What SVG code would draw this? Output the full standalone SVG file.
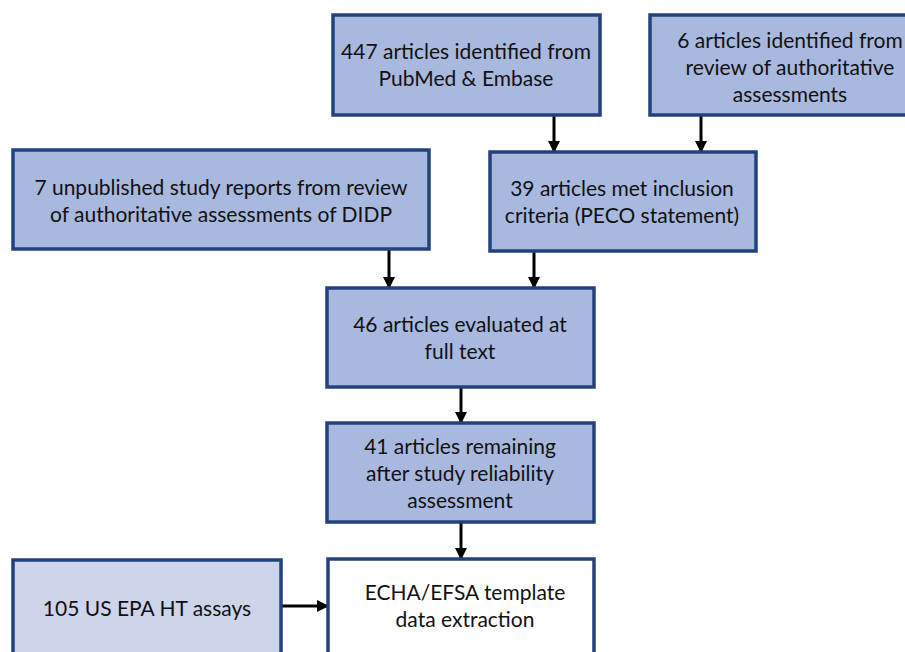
<svg xmlns="http://www.w3.org/2000/svg" width="905" height="652" viewBox="0 0 905 652">
<defs>
<marker id="ah" markerWidth="12" markerHeight="12" refX="10" refY="6" orient="auto" markerUnits="userSpaceOnUse">
<path d="M0,0 L12,6 L0,12 z" fill="#000"/>
</marker>
<style>
.box{fill:#A9B8DF;stroke:#24417F;stroke-width:3.5}
.light{fill:#CED5EB}
.white{fill:#FFFFFF}
text{font-family:Lato,"Open Sans","Liberation Sans",sans-serif;font-size:21px;fill:#111;text-anchor:middle}
.con{stroke:#000;stroke-width:3;fill:none;marker-end:url(#ah)}
</style>
</defs>
<rect width="905" height="652" fill="#fff"/>
<g id="connectors">
<line class="con" x1="554" y1="116" x2="554" y2="151"/>
<line class="con" x1="701" y1="116" x2="701" y2="151"/>
<line class="con" x1="389" y1="250" x2="389" y2="287"/>
<line class="con" x1="534" y1="252" x2="534" y2="287"/>
<line class="con" x1="461" y1="388" x2="461" y2="422"/>
<line class="con" x1="461" y1="522" x2="461" y2="558"/>
<line class="con" x1="282" y1="606" x2="327" y2="606"/>
</g>
<g id="n447">
<rect class="box" x="333" y="15" width="267" height="100"/>
<text x="466" y="59">447 articles identified from</text>
<text x="466" y="86">PubMed &amp; Embase</text>
</g>
<g id="n6">
<rect class="box" x="650" y="15" width="262" height="100"/>
<text x="790" y="48">6 articles identified from</text>
<text x="790" y="75">review of authoritative</text>
<text x="790" y="102">assessments</text>
</g>
<g id="n7">
<rect class="box" x="13" y="150" width="416" height="99"/>
<text x="221" y="195">7 unpublished study reports from review</text>
<text x="221" y="222">of authoritative assessments of DIDP</text>
</g>
<g id="n39">
<rect class="box" x="490" y="152" width="266" height="99"/>
<text x="622" y="196">39 articles met inclusion</text>
<text x="622" y="223">criteria (PECO statement)</text>
</g>
<g id="n46">
<rect class="box" x="327" y="288" width="267" height="99"/>
<text x="460" y="332">46 articles evaluated at</text>
<text x="460" y="359">full text</text>
</g>
<g id="n41">
<rect class="box" x="327" y="423" width="267" height="99"/>
<text x="460" y="454">41 articles remaining</text>
<text x="460" y="481">after study reliability</text>
<text x="460" y="508">assessment</text>
</g>
<g id="n105">
<rect class="box light" x="13" y="560" width="268" height="110"/>
<text x="147" y="616">105 US EPA HT assays</text>
</g>
<g id="necha">
<rect class="box white" x="328" y="559" width="266" height="110"/>
<text x="465" y="600">ECHA/EFSA template</text>
<text x="465" y="627">data extraction</text>
</g>
</svg>
